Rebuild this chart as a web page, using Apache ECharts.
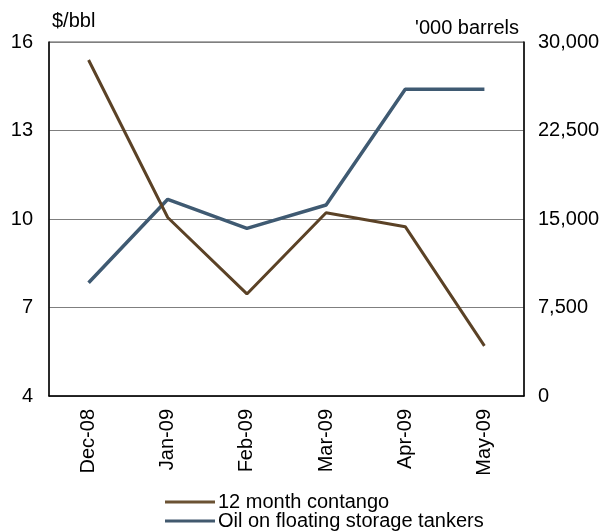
<!DOCTYPE html>
<html>
<head>
<meta charset="utf-8">
<script src="https://cdn.jsdelivr.net/npm/echarts@6/dist/echarts.min.js"></script>
<style>html,body{margin:0;padding:0;background:#fff}#c{width:605px;height:531px}</style>
</head>
<body>
<div id="c"></div>
<script>
var categories = ['Dec-08','Jan-09','Feb-09','Mar-09','Apr-09','May-09'];
var contango = [15.39, 10.05, 7.46, 10.21, 9.74, 5.7];
var storage = [9600, 16670, 14210, 16190, 26000, 26000];
var leftTicks = {min: 4, max: 16, interval: 3};
var rightTicks = {min: 0, max: 30000, interval: 7500};
var seriesNames = ['12 month contango', 'Oil on floating storage tankers'];
var axisNames = ['$/bbl', "'000 barrels"];

var font = 'Liberation Sans, Arial, sans-serif';
function legendAt(name, top) {
  return {
    orient: 'vertical', left: 165, top: top, itemGap: 0, padding: 0,
    itemWidth: 50, itemHeight: 3, icon: 'rect',
    textStyle: {fontFamily: font, fontSize: 20, color: '#000', lineHeight: 19, padding: [0,0,0,-2]},
    data: [name]
  };
}
var chart = echarts.init(document.getElementById('c'), null, {renderer: 'canvas'});
chart.setOption({
  animation: false,
  backgroundColor: '#fff',
  grid: {left: 49, right: 81, top: 42, bottom: 135, show: true, borderColor: '#555', borderWidth: 1, backgroundColor: 'transparent'},
  graphic: [
    {type: 'text', left: 52, top: 11, style: {text: axisNames[0], font: '20px ' + font, fill: '#000'}},
    {type: 'text', right: 86, top: 18, style: {text: axisNames[1], font: '20px ' + font, fill: '#000'}}
  ],
  legend: [legendAt(seriesNames[0], 492), legendAt(seriesNames[1], 511)],
  xAxis: {
    type: 'category', data: categories, boundaryGap: true,
    axisLine: {lineStyle: {color: '#000', width: 1.5}},
    axisTick: {show: false},
    axisLabel: {rotate: 90, margin: 13, fontFamily: font, fontSize: 20, color: '#000'}
  },
  yAxis: [
    {type: 'value', min: leftTicks.min, max: leftTicks.max, interval: leftTicks.interval, position: 'left',
     axisLine: {show: true, lineStyle: {color: '#000', width: 1.5}}, axisTick: {show: false},
     axisLabel: {margin: 16, fontFamily: font, fontSize: 20, color: '#000'},
     splitLine: {show: true, lineStyle: {color: '#7f7f7f', width: 1}}},
    {type: 'value', min: rightTicks.min, max: rightTicks.max, interval: rightTicks.interval, position: 'right',
     axisLine: {show: true, lineStyle: {color: '#000', width: 1.5}}, axisTick: {show: false},
     axisLabel: {margin: 14, fontFamily: font, fontSize: 20, color: '#000',
       formatter: function (v) { return v.toLocaleString('en-US'); }},
     splitLine: {show: false}}
  ],
  series: [
    {name: seriesNames[0], type: 'line', yAxisIndex: 0, data: contango, symbol: 'none',
     lineStyle: {color: '#5b4226', width: 3}, itemStyle: {color: '#6b5233'}, z: 3},
    {name: seriesNames[1], type: 'line', yAxisIndex: 1, data: storage, symbol: 'none',
     lineStyle: {color: '#3f5a72', width: 3.5}, itemStyle: {color: '#42596e'}, z: 2}
  ]
});
</script>
</body>
</html>
